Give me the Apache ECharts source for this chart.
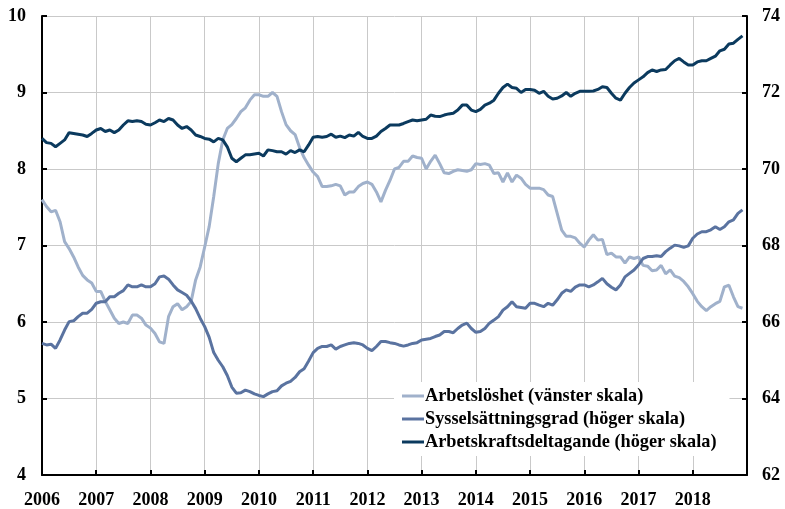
<!DOCTYPE html>
<html>
<head>
<meta charset="utf-8">
<script src="https://cdn.jsdelivr.net/npm/echarts@6/dist/echarts.min.js"></script>
<style>
  html, body { margin: 0; padding: 0; background: #fff; }
  #chart { width: 785px; height: 509px; }
</style>
</head>
<body>
<div id="chart"></div>
<script>
// monthly, Jan 2006 - Dec 2018
var years = [2006, 2007, 2008, 2009, 2010, 2011, 2012, 2013, 2014, 2015, 2016, 2017, 2018];

var arbetsloshet = [
  7.6, 7.51, 7.44, 7.46, 7.31, 7.05, 6.96, 6.85, 6.72, 6.61, 6.55, 6.51,
  6.4, 6.4, 6.27, 6.16, 6.05, 5.98, 6.0, 5.98, 6.09, 6.09, 6.05, 5.96,
  5.92, 5.85, 5.74, 5.72, 6.07, 6.2, 6.24, 6.16, 6.2, 6.27, 6.55, 6.72,
  6.98, 7.25, 7.64, 8.07, 8.38, 8.53, 8.58, 8.66, 8.75, 8.8, 8.9, 8.97,
  8.97, 8.95, 8.95, 9.0, 8.95, 8.75, 8.58, 8.5, 8.45, 8.28, 8.15, 8.05,
  7.96, 7.9, 7.77, 7.77, 7.78, 7.8, 7.78, 7.66, 7.7, 7.7, 7.77, 7.81,
  7.83, 7.8, 7.7, 7.57, 7.72, 7.85, 8.0, 8.02, 8.1, 8.1, 8.17, 8.15,
  8.14, 8.0, 8.1, 8.18, 8.07, 7.95, 7.94, 7.97, 7.99, 7.98, 7.97, 7.99,
  8.07, 8.06, 8.07, 8.05, 7.94, 7.95, 7.83, 7.95, 7.83, 7.92, 7.88, 7.8,
  7.75, 7.75, 7.75, 7.73, 7.66, 7.64, 7.42, 7.2, 7.12, 7.12, 7.1, 7.03,
  6.98, 7.07, 7.14, 7.07, 7.08, 6.88, 6.9, 6.85, 6.85, 6.77, 6.85, 6.83,
  6.85, 6.74, 6.73, 6.67, 6.68, 6.74, 6.63, 6.68, 6.6, 6.58, 6.53, 6.46,
  6.37, 6.27, 6.2, 6.15, 6.2, 6.24, 6.27, 6.46, 6.48, 6.33, 6.2, 6.18
];

var sysselsattningsgrad = [
  65.44, 65.4, 65.42, 65.31, 65.53, 65.79, 66.01, 66.03, 66.14, 66.23, 66.23, 66.33,
  66.49, 66.53, 66.53, 66.66, 66.66, 66.75, 66.82, 66.97, 66.92, 66.92, 66.97, 66.92,
  66.92, 67.0, 67.18, 67.2, 67.12, 66.97, 66.84, 66.77, 66.7, 66.55, 66.35, 66.1,
  65.88, 65.6, 65.2, 65.0, 64.83, 64.6, 64.3, 64.14, 64.15, 64.22, 64.18, 64.12,
  64.08, 64.05, 64.12, 64.18, 64.2, 64.33, 64.4, 64.45, 64.55, 64.7, 64.78, 64.98,
  65.2, 65.31, 65.36, 65.36, 65.4, 65.29, 65.36, 65.4, 65.44, 65.46, 65.44, 65.4,
  65.31, 65.25, 65.36, 65.49, 65.49, 65.46, 65.44, 65.4, 65.37, 65.4, 65.44, 65.46,
  65.53, 65.55, 65.57, 65.62, 65.66, 65.75, 65.75, 65.72, 65.83, 65.92, 65.97, 65.83,
  65.73, 65.75, 65.83, 65.97, 66.05, 66.14, 66.31, 66.4, 66.53, 66.4, 66.38, 66.36,
  66.49, 66.49, 66.44, 66.4, 66.49, 66.44, 66.58, 66.75, 66.84, 66.8, 66.91, 66.97,
  66.97, 66.92, 66.97, 67.05, 67.14, 67.0, 66.91, 66.84, 66.97, 67.18, 67.27, 67.36,
  67.49, 67.66, 67.71, 67.71, 67.73, 67.71, 67.84, 67.93, 68.01, 67.99, 67.95, 67.99,
  68.19, 68.3, 68.36, 68.36, 68.41, 68.49, 68.42, 68.49, 68.62, 68.67, 68.84, 68.93
];

var arbetskraftsdeltagande = [
  70.8, 70.69, 70.67, 70.58, 70.67, 70.76, 70.95, 70.93, 70.91, 70.89, 70.85, 70.93,
  71.02, 71.06, 70.98, 71.02, 70.95, 71.02, 71.15, 71.26, 71.24, 71.26, 71.24, 71.17,
  71.15, 71.21, 71.28, 71.24, 71.32, 71.28, 71.15, 71.06, 71.11, 71.02, 70.89, 70.85,
  70.8, 70.78, 70.71, 70.8, 70.76, 70.58, 70.28, 70.19, 70.28, 70.37, 70.37, 70.39,
  70.41, 70.34, 70.5, 70.48, 70.45, 70.45, 70.39, 70.48, 70.43, 70.5, 70.45, 70.63,
  70.83, 70.85, 70.83, 70.85, 70.91, 70.83, 70.86, 70.82, 70.89, 70.86, 70.96, 70.85,
  70.8, 70.8, 70.86, 70.98, 71.06, 71.15, 71.15, 71.15, 71.19, 71.24, 71.28, 71.26,
  71.28, 71.3, 71.41, 71.38, 71.37, 71.41, 71.44, 71.46, 71.54, 71.67, 71.67, 71.54,
  71.5, 71.56, 71.67, 71.72, 71.8, 71.98, 72.13, 72.22, 72.13, 72.11, 72.0, 72.08,
  72.08, 72.06, 71.98, 72.03, 71.9, 71.83, 71.85, 71.91, 72.0, 71.9, 71.98, 72.03,
  72.03, 72.03, 72.04, 72.08, 72.15, 72.13, 71.98, 71.85, 71.8, 71.98, 72.13, 72.25,
  72.33, 72.41, 72.52, 72.59, 72.55, 72.59, 72.6, 72.72, 72.83, 72.89, 72.8, 72.72,
  72.72, 72.8, 72.83, 72.83, 72.89, 72.95, 73.09, 73.13, 73.27, 73.29, 73.39, 73.48
];

var seriesNames = [
  'Arbetslöshet (vänster skala)',
  'Sysselsättningsgrad (höger skala)',
  'Arbetskraftsdeltagande (höger skala)'
];
var colors = ['#a0b1cb', '#5a73a0', '#0b3a5e'];

// one category per month, plus Jan of the following year as the right edge
var months = [];
years.forEach(function (y) {
  for (var m = 1; m <= 12; m++) months.push(y + '-' + (m < 10 ? '0' + m : m));
});
months.push((years[years.length - 1] + 1) + '-01');

var font = '"Liberation Serif", "Times New Roman", serif';
var isYearStart = function (idx) { return idx % 12 === 0; };
var labelStyle = { fontFamily: font, fontWeight: 'bold', fontSize: 18, color: '#000' };

var chart = echarts.init(document.getElementById('chart'));

var option = {
  animation: false,
  color: colors,
  grid: { left: 42, right: 38, top: 16, bottom: 34 },
  legend: {
    orient: 'vertical',
    left: 394,
    top: 382,
    itemWidth: 22,
    itemHeight: 3,
    itemGap: 3,
    icon: 'rect',
    padding: [4, 13, 4, 8],
    backgroundColor: '#fff',
    textStyle: {
      fontFamily: font, fontWeight: 'bold', fontSize: 18.3, color: '#000',
      lineHeight: 20, padding: [0, 0, 0, -4]
    },
    data: seriesNames
  },
  xAxis: {
    type: 'category',
    boundaryGap: false,
    data: months,
    axisLine: { lineStyle: { color: '#000', width: 2 } },
    axisTick: { inside: true, length: 5, interval: isYearStart, lineStyle: { color: '#000', width: 2 } },
    axisLabel: Object.assign({
      interval: function (idx) { return idx % 12 === 0 && idx < months.length - 1; },
      formatter: function (v) { return v.slice(0, 4); },
      margin: 16
    }, labelStyle),
    splitLine: { show: true, interval: isYearStart, lineStyle: { color: '#c9c9c9', width: 1 } }
  },
  yAxis: [
    {
      type: 'value',
      min: 4, max: 10, interval: 1,
      axisLine: { show: true, lineStyle: { color: '#000', width: 2 } },
      axisTick: { show: true, inside: true, length: 5, lineStyle: { color: '#000', width: 2 } },
      axisLabel: Object.assign({ margin: 16 }, labelStyle),
      splitLine: { show: true, lineStyle: { color: '#c9c9c9', width: 1 } }
    },
    {
      type: 'value',
      min: 62, max: 74, interval: 2,
      axisLine: { show: true, lineStyle: { color: '#000', width: 2 } },
      axisTick: { show: true, inside: true, length: 5, lineStyle: { color: '#000', width: 2 } },
      axisLabel: Object.assign({ margin: 15 }, labelStyle),
      splitLine: { show: false }
    }
  ],
  series: [
    {
      name: seriesNames[0], type: 'line', yAxisIndex: 0, data: arbetsloshet,
      showSymbol: false, symbol: 'none', lineStyle: { width: 3 }
    },
    {
      name: seriesNames[1], type: 'line', yAxisIndex: 1, data: sysselsattningsgrad,
      showSymbol: false, symbol: 'none', lineStyle: { width: 3 }
    },
    {
      name: seriesNames[2], type: 'line', yAxisIndex: 1, data: arbetskraftsdeltagande,
      showSymbol: false, symbol: 'none', lineStyle: { width: 3 }
    }
  ]
};

chart.setOption(option);
</script>
</body>
</html>
